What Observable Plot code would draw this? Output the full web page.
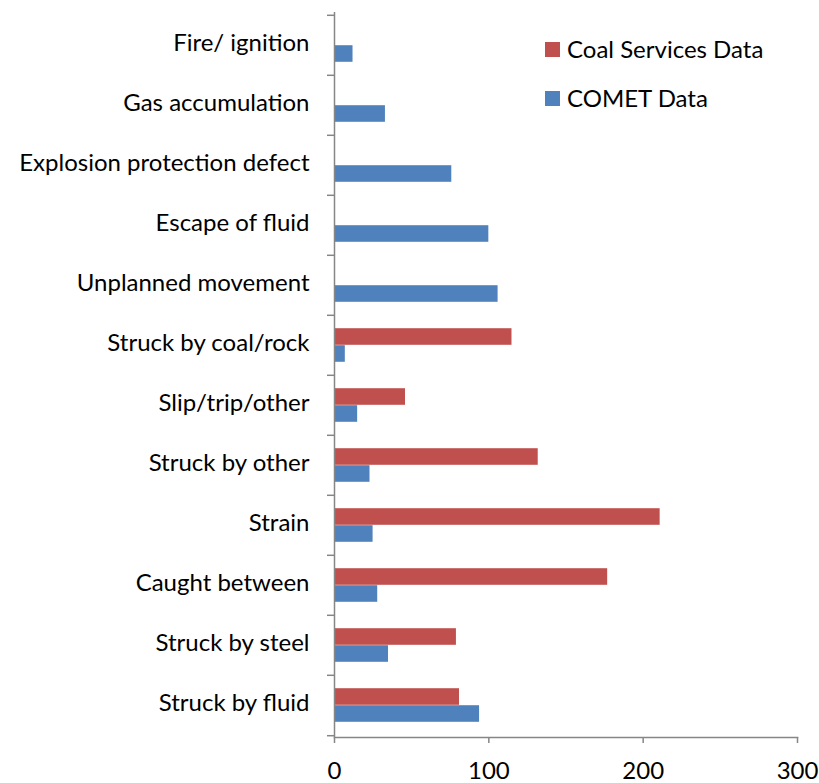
<!DOCTYPE html>
<html><head><meta charset="utf-8">
<script src="https://cdn.jsdelivr.net/npm/d3@7"></script>
<script src="https://cdn.jsdelivr.net/npm/@observablehq/plot@0.6"></script>
<style>
body{margin:0;background:#fff}
#wrap{position:relative;width:819px;height:783px;font-family:Lato,sans-serif}
.leg{position:absolute;display:flex;align-items:center;font-size:24px;color:#000;white-space:nowrap;line-height:1}
.sw{width:15px;height:15px;margin-right:7px}
</style>
</head><body><div id="wrap"></div>
<script>
const categories = ["Fire/ ignition","Gas accumulation","Explosion protection defect","Escape of fluid","Unplanned movement","Struck by coal/rock","Slip/trip/other","Struck by other","Strain","Caught between","Struck by steel","Struck by fluid"];
const coalServices = [null,null,null,null,null,115,46,132,211,177,79,81];
const comet = [12,33,76,100,106,7,15,23,25,28,35,94];
const seriesNames = ["Coal Services Data","COMET Data"];
const seriesColors = ["#C0504D","#4F81BD"];
const xTicks = [0,100,200,300];

const W = 819, H = 783, mL = 334, mR = 22, mT = 12, mB = 46;
const bw = (H - mT - mB) / categories.length;
const barH = 17;
const gray = "#868686";

const coalData = categories.map((c,i)=>({category:c, value:coalServices[i]})).filter(d=>d.value!=null);
const cometData = categories.map((c,i)=>({category:c, value:comet[i]}));

const chart = Plot.plot({
  width: W, height: H,
  marginLeft: mL, marginRight: mR, marginTop: mT, marginBottom: mB,
  style: {fontFamily: "Lato, sans-serif", fontSize: "24px", color: "#000", background: "#fff", overflow: "visible"},
  x: {domain: [0,300]},
  y: {domain: categories, type: "band", padding: 0},
  marks: [
    Plot.barX(coalData, {x: "value", y: "category", fill: seriesColors[0], insetTop: bw/2 - barH, insetBottom: bw/2}),
    Plot.barX(cometData, {x: "value", y: "category", fill: seriesColors[1], insetTop: bw/2, insetBottom: bw/2 - barH}),
    Plot.ruleX([0], {stroke: gray, strokeWidth: 1.5}),
    Plot.frame({anchor: "bottom", stroke: gray, strokeWidth: 1.5}),
    Plot.axisY({tickSize: 0, tickPadding: 25, fontSize: 24, fill: "#000", dy: -2, label: null}),
    Plot.axisY({tickSize: 7, tickFormat: () => "", dy: -bw/2, stroke: gray, strokeWidth: 1.5, label: null}),
    Plot.axisY({ticks: [categories[categories.length-1]], tickSize: 7, tickFormat: () => "", dy: bw/2, stroke: gray, strokeWidth: 1.5, label: null}),
    Plot.axisX({ticks: xTicks, tickSize: 6, tickPadding: 18, fontSize: 24, stroke: gray, strokeWidth: 1.5, fill: "#000", label: null})
  ]
});
const wrap = document.getElementById("wrap");
wrap.appendChild(chart);
const legTops = [37, 86];
seriesNames.forEach((n,i)=>{
  const d = document.createElement("div");
  d.className = "leg";
  d.style.left = "545px"; d.style.top = legTops[i] + "px";
  d.innerHTML = `<span class="sw" style="background:${seriesColors[i]}"></span><span>${n}</span>`;
  wrap.appendChild(d);
});
</script>
</body></html>
